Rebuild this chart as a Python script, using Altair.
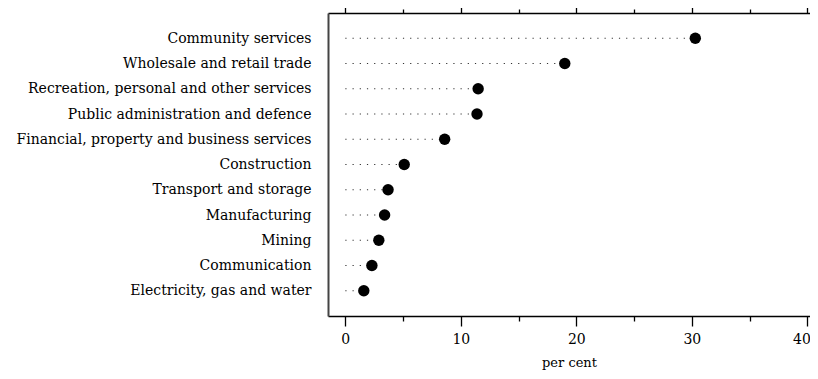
import altair as alt
import pandas as pd

industries = [
    "Community services",
    "Wholesale and retail trade",
    "Recreation, personal and other services",
    "Public administration and defence",
    "Financial, property and business services",
    "Construction",
    "Transport and storage",
    "Manufacturing",
    "Mining",
    "Communication",
    "Electricity, gas and water",
]
shares = [30.3, 19.0, 11.5, 11.4, 8.6, 5.1, 3.7, 3.4, 2.9, 2.3, 1.6]
tick_values = [0, 5, 10, 15, 20, 25, 30, 35, 40]

df = pd.DataFrame({"industry": industries, "share": shares, "zero": [0.0] * len(shares)})

FONT = "DejaVu Serif"
xscale = alt.Scale(domain=[-1.5, 40.23], nice=False, zero=False)
yscale = alt.Scale(type="point", domain=industries, padding=1)

yaxis_main = alt.Axis(title=None, ticks=False, domain=True, labels=True,
                      domainColor="#444444", domainWidth=2,
                      labelFont=FONT, labelFontSize=14, labelColor="black",
                      labelPadding=17, labelLimit=400, grid=False, orient="left")
yaxis_hidden = alt.Axis(title=None, ticks=False, domain=False, labels=False,
                        grid=False, orient="left")

base = alt.Chart(df)

leaders = base.mark_rule(color="#333333", strokeWidth=1.2, strokeDash=[1.2, 6]).encode(
    x=alt.X("zero:Q", scale=xscale,
            axis=alt.Axis(orient="bottom", values=tick_values, title="per cent",
                          labelExpr="datum.value % 10 === 0 ? datum.label : ''",
                          labelAlign=alt.expr("datum.value === 40 ? 'right' : 'center'"),
                          labelOffset=alt.expr("datum.value === 40 ? 3 : 0"),
                          tickSize=alt.expr("datum.value % 10 === 0 ? 10 : 5"),
                          grid=False, domainColor="black", domainWidth=1.5,
                          tickColor="black", tickWidth=1.3,
                          labelFont=FONT, labelFontSize=14, labelColor="black",
                          labelPadding=6,
                          titleFont=FONT, titleFontSize=13, titleFontWeight="normal",
                          titleColor="black", titlePadding=10)),
    x2="share:Q",
    y=alt.Y("industry:N", scale=yscale, sort=industries, axis=yaxis_main),
)

dots = base.mark_circle(color="black", size=130, opacity=1).encode(
    x=alt.X("share:Q", scale=xscale,
            axis=alt.Axis(orient="top", values=tick_values, labels=False, title=None,
                          tickSize=alt.expr("datum.value % 10 === 0 ? 9 : 4"),
                          grid=False, domainColor="black", domainWidth=1.5,
                          tickColor="black", tickWidth=1.3)),
    y=alt.Y("industry:N", scale=yscale, sort=industries, axis=yaxis_hidden),
)

chart = (
    alt.layer(leaders, dots)
    .resolve_axis(x="independent", y="shared")
    .properties(
        width=482,
        height=303,
        background="white",
        autosize=alt.AutoSizeParams(type="none"),
        padding={"left": 320, "top": 5, "right": 0, "bottom": 55},
    )
    .configure_view(stroke="transparent", strokeWidth=0, strokeOpacity=0)
)

chart.save("out.html", embed_options={"renderer": "svg", "actions": False})
